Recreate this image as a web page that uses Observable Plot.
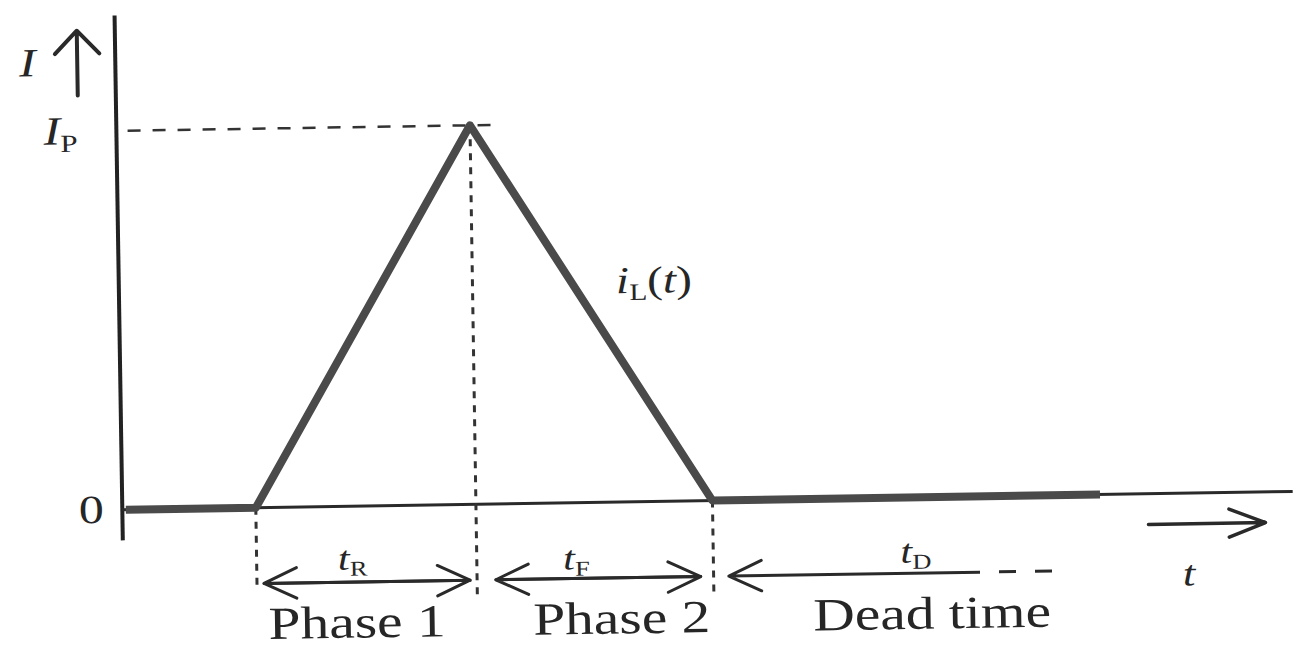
<!DOCTYPE html>
<html>
<head>
<meta charset="utf-8">
<script src="https://cdn.jsdelivr.net/npm/d3@7"></script>
<script src="https://cdn.jsdelivr.net/npm/@observablehq/plot@0.6"></script>
<style>
  html, body { margin: 0; padding: 0; background: #fff; }
  #chart { width: 1302px; height: 652px; overflow: hidden; background: #fff; }
</style>
</head>
<body>
<div id="chart"></div>
<script>
// ---- Data (time in arbitrary units, current normalised to the peak I_P) ----
const waveTime = [0.03, 1.14, 3.02, 5.04, 8.35];
const waveCurrent = [0, 0, 1, 0, 0];

// phase boundaries: start of rise, peak, end of fall
const eventTime = [1.14, 3.02, 5.04];
const eventCurrent = [0, 1, 0];
const eventGuideEnd = [-0.22, -0.25, -0.24];

// interval dimension arrows t_R, t_F, t_D
const spanLabels = ["*t*_R", "*t*_F", "*t*_D"];
const spanFrom = [1.20, 3.18, 5.17];
const spanTo = [2.96, 4.93, 7.17];
const spanDoubleHeaded = [true, true, false];
const spanLevel = -0.2;
const spanLabelX = [1.96, 3.87, 6.77];
const spanLabelY = [-0.138, -0.147, -0.143];
const deadTimeTail = [7.17, 8.06];

// phase names
const phaseNames = ["Phase 1", "Phase 2", "Dead time"];
const phaseLabelX = [1.99, 4.25, 6.9];
const phaseLabelY = -0.308;

// axis tick labels
const yTickValues = [0, 1];
const yTickLabels = ["0", "*I*_P"];
const yTickLabelX = [-0.265, -0.478];
const peakGuideExtent = [0.10, 3.28];

// axes
const xAxisExtent = [0, 10];
const yAxisExtent = [-0.082, 1.303];
const yArrow = {x: -0.325, from: 1, to: 1.266, label: "*I*", labelX: -0.75, labelY: 1.181};
const xArrow = {y: -0.081, from: 8.76, to: 9.76, label: "*t*", labelX: 9.10, labelY: -0.213};
const curveLabel = {text: "*i*_L(*t*)", x: 4.57, y: 0.583};

// ---- Tables built from the arrays ----
const wave = waveTime.map((t, i) => ({t, i: waveCurrent[i]}));
const events = eventTime.map((t, k) => ({t, i: eventCurrent[k], end: eventGuideEnd[k]}));
const spans = spanLabels.map((label, k) => ({label, from: spanFrom[k], to: spanTo[k], both: spanDoubleHeaded[k], lx: spanLabelX[k], ly: spanLabelY[k]}));
const phases = phaseNames.map((name, k) => ({name, x: phaseLabelX[k]}));
const ticks = yTickValues.map((v, k) => ({v, label: yTickLabels[k], x: yTickLabelX[k]}));

const ink = "#262626";
const serif = "Liberation Serif, Times New Roman, serif";

const chart = Plot.plot({
  width: 1302,
  height: 652,
  margin: 0,
  x: {domain: [0, 10], range: [119, 1290], axis: null},
  y: {domain: [0, 1], range: [501, 122], axis: null},
  marks: [
    // axes
    Plot.ruleX([0], {y1: yAxisExtent[0], y2: yAxisExtent[1], stroke: "#222", strokeWidth: 4}),
    Plot.ruleY([0], {x1: xAxisExtent[0], x2: xAxisExtent[1], stroke: "#2a2a2a", strokeWidth: 3}),
    // I_P guide
    Plot.ruleY([1], {x1: peakGuideExtent[0], x2: peakGuideExtent[1], stroke: "#333", strokeWidth: 2.5, strokeDasharray: "13,12"}),
    // phase boundary guides
    Plot.link(events, {x1: "t", x2: "t", y1: "i", y2: "end", stroke: "#333", strokeWidth: 3, strokeDasharray: "7,7"}),
    // waveform
    Plot.line(wave, {x: "t", y: "i", stroke: "#4a4a4a", strokeWidth: 8, strokeLinejoin: "round", strokeLinecap: "butt"}),
    // dimension arrows
    Plot.arrow(spans.filter(d => d.both), {x1: "from", x2: "to", y1: spanLevel, y2: spanLevel, stroke: "#2a2a2a", strokeWidth: 3, headLength: 18, headAngle: 50}),
    Plot.arrow(spans, {x1: "to", x2: "from", y1: spanLevel, y2: spanLevel, stroke: "#2a2a2a", strokeWidth: 3, headLength: 18, headAngle: 50}),
    Plot.link([deadTimeTail], {x1: d => d[0], x2: d => d[1], y1: spanLevel, y2: spanLevel, stroke: "#2a2a2a", strokeWidth: 3, strokeDasharray: "17,19"}),
    // axis direction arrows
    Plot.arrow([yArrow], {x1: "x", x2: "x", y1: "from", y2: "to", stroke: "#2a2a2a", strokeWidth: 4, headLength: 12, headAngle: 88, insetStart: 36}),
    Plot.arrow([xArrow], {x1: "from", x2: "to", y1: "y", y2: "y", stroke: "#2a2a2a", strokeWidth: 3.5, headLength: 17, headAngle: 42}),
    // texts
    Plot.text(ticks, {x: "x", y: "v", text: "label", fontSize: 40, fontFamily: serif, fill: ink}),
    Plot.text([yArrow], {x: "labelX", y: "labelY", text: "label", fontSize: 40, fontFamily: serif, fill: ink}),
    Plot.text([xArrow], {x: "labelX", y: "labelY", text: "label", fontSize: 36, fontFamily: serif, fill: ink}),
    Plot.text([curveLabel], {x: "x", y: "y", text: "text", fontSize: 38, fontFamily: serif, fill: ink}),
    Plot.text(spans, {x: "lx", y: "ly", text: "label", fontSize: 34, fontFamily: serif, fill: ink}),
    Plot.text(phases, {x: "x", y: phaseLabelY, text: "name", fontSize: 46, fontFamily: serif, fill: ink})
  ]
});

// ---- Rich text: *italic* and _subscript, plus the scan's wide letterforms ----
const SVGNS = "http://www.w3.org/2000/svg";
d3.select(chart).selectAll("text").each(function () {
  const el = this;
  const s = el.textContent;
  if (/[*_]/.test(s)) {
    el.textContent = "";
    const re = /\*([^*]+)\*|_(\w)|([^*_]+)/g;
    let m, inSub = false;
    while ((m = re.exec(s))) {
      const ts = document.createElementNS(SVGNS, "tspan");
      if (m[2]) {
        ts.textContent = m[2];
        ts.setAttribute("font-size", "0.62em");
        ts.setAttribute("font-style", "normal");
        ts.setAttribute("dy", "0.3em");
        inSub = true;
      } else {
        ts.textContent = m[1] || m[3];
        ts.setAttribute("font-style", m[1] ? "italic" : "normal");
        if (inSub) { ts.setAttribute("dy", "-0.186em"); inSub = false; }
      }
      el.appendChild(ts);
    }
  }
  const tr = el.getAttribute("transform");
  if (tr) {
    el.setAttribute("transform", tr + " scale(1.25,1)");
  } else {
    const x = +el.getAttribute("x") || 0, y = +el.getAttribute("y") || 0;
    el.setAttribute("transform", `translate(${x},${y}) scale(1.25,1) translate(${-x},${-y})`);
  }
});

chart.style.transformOrigin = "651px 326px";
chart.style.transform = "rotate(-0.9deg)";
chart.style.background = "#fff";
document.getElementById("chart").appendChild(chart);
</script>
</body>
</html>
